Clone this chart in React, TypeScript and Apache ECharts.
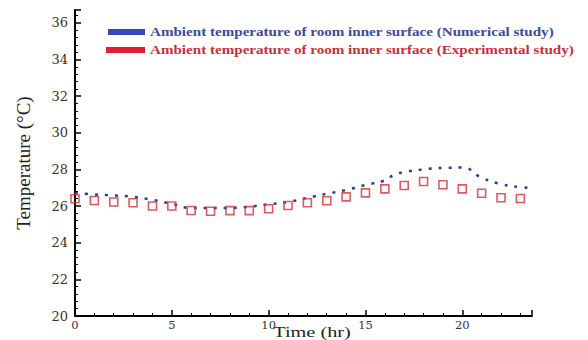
import React, { useEffect, useRef } from "react";
import * as echarts from "echarts";

const hours: number[] = [0, 1, 2, 3, 4, 5, 6, 7, 8, 9, 10, 11, 12, 13, 14, 15, 16, 17, 18, 19, 20, 21, 22, 23];
const experimental: number[] = [26.4, 26.3, 26.22, 26.18, 26.0, 26.0, 25.76, 25.72, 25.75, 25.75, 25.85, 26.03, 26.18, 26.29, 26.5, 26.72, 26.94, 27.12, 27.34, 27.16, 26.94, 26.7, 26.45, 26.41];
const numHours: number[] = [0, 1, 2, 3, 4, 5, 6, 7, 8, 9, 10, 11, 12, 13, 14, 15, 16, 16.5, 17, 18, 19, 20, 21, 22, 23, 23.6];
const numerical: number[] = [26.72, 26.63, 26.58, 26.5, 26.34, 26.12, 25.9, 25.9, 25.9, 25.97, 26.1, 26.22, 26.45, 26.67, 26.88, 27.15, 27.4, 27.72, 27.85, 28.0, 28.08, 28.1, 27.55, 27.2, 27.03, 27.0];
const legendLabels: string[] = [
  "Ambient temperature of room inner surface (Numerical study)",
  "Ambient temperature of room inner surface (Experimental study)",
];
const xTitle = "Time (hr)";
const yTitle = "Temperature (°C)";

export default function App() {
  const ref = useRef<HTMLDivElement>(null);
  useEffect(() => {
    const chart = echarts.init(ref.current!, undefined, { renderer: "svg" });
    const serif = "'Liberation Serif', 'Times New Roman', serif";
    const wideSerif = "'DejaVu Serif', serif";
    const axisCommon = {
      axisLine: { lineStyle: { color: "#000", width: 2 } },
      axisTick: { inside: true, length: 6, lineStyle: { color: "#000", width: 1.5 } },
      minorTick: { show: true, length: 3, lineStyle: { color: "#000", width: 1 } },
      splitLine: { show: false },
      minorSplitLine: { show: false },
      axisLabel: {
        color: "#333",
        fontFamily: wideSerif,
        fontSize: 13,
        showMaxLabel: false,
      },
    };
    chart.setOption({
      animation: false,
      backgroundColor: "#fff",
      grid: { left: 75, right: 56, top: 10, bottom: 24, containLabel: false, outerBoundsMode: "none" },
      xAxis: {
        type: "value",
        min: 0,
        max: 23.6,
        interval: 5,
        ...axisCommon,
        minorTick: { ...axisCommon.minorTick, splitNumber: 5 },
        axisLabel: { ...axisCommon.axisLabel, fontSize: 11.5, margin: 3 },
      },
      yAxis: {
        type: "value",
        min: 20,
        max: 36.7,
        interval: 2,
        ...axisCommon,
        minorTick: { ...axisCommon.minorTick, splitNumber: 5 },
        axisLabel: { ...axisCommon.axisLabel, margin: 7 },
        name: yTitle,
        nameLocation: "middle",
        nameGap: 42,
        nameRotate: 90,
        nameTextStyle: { fontFamily: serif, fontSize: 19, color: "#222" },
      },
      series: [
        {
          name: legendLabels[0],
          type: "line",
          data: numHours.map((h, i) => [h, numerical[i]]),
          showSymbol: false,
          smooth: true,
          lineStyle: { color: "#2a3c96", width: 2.5, type: [3, 7] },
          z: 3,
        },
        {
          name: legendLabels[1],
          type: "scatter",
          data: hours.map((h, i) => [h, experimental[i]]),
          symbol: "rect",
          symbolSize: 8,
          itemStyle: { color: "rgba(255,255,255,0)", borderColor: "#d8303a", borderWidth: 1.6 },
          z: 4,
        },
      ],
      graphic: [
        { type: "rect", shape: { x: 108, y: 29, width: 37, height: 6 }, style: { fill: "#3848b8" } },
        { type: "rect", shape: { x: 106, y: 47, width: 39, height: 6 }, style: { fill: "#e0202c" } },
        {
          type: "text",
          x: 150,
          y: 32,
          scaleX: 1.26,
          style: {
            text: legendLabels[0],
            fill: "#3a4a9e",
            font: "bold 12px 'Liberation Serif', serif",
            verticalAlign: "middle",
          },
        },
        {
          type: "text",
          x: 150,
          y: 50,
          scaleX: 1.26,
          style: {
            text: legendLabels[1],
            fill: "#c8303a",
            font: "bold 12px 'Liberation Serif', serif",
            verticalAlign: "middle",
          },
        },
        {
          type: "text",
          x: 312,
          y: 339,
          scaleX: 1.45,
          style: {
            text: xTitle,
            fill: "#222",
            font: "14px 'Liberation Serif', serif",
            align: "center",
            verticalAlign: "bottom",
          },
        },
      ],
    });
    return () => chart.dispose();
  }, []);
  return (
    <div
      ref={ref}
      style={{ position: "fixed", left: 0, top: 0, width: 588, height: 340 }}
    />
  );
}
